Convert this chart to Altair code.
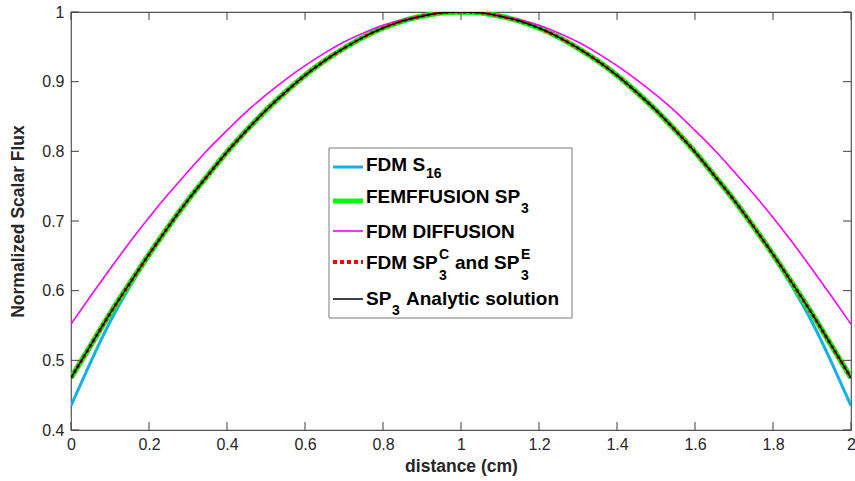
import altair as alt
import pandas as pd

# ---------------- data ----------------
distance = [0.00, 0.05, 0.10, 0.15, 0.20, 0.25, 0.30, 0.35, 0.40, 0.45, 0.50,
            0.55, 0.60, 0.65, 0.70, 0.75, 0.80, 0.85, 0.90, 0.95, 1.00,
            1.05, 1.10, 1.15, 1.20, 1.25, 1.30, 1.35, 1.40, 1.45, 1.50,
            1.55, 1.60, 1.65, 1.70, 1.75, 1.80, 1.85, 1.90, 1.95, 2.00]

fdm_s16 = [0.435, 0.497, 0.555, 0.605, 0.650, 0.691, 0.730, 0.765, 0.799, 0.830, 0.859,
           0.885, 0.909, 0.930, 0.948, 0.964, 0.977, 0.987, 0.994, 0.999, 1.000,
           0.999, 0.994, 0.987, 0.977, 0.964, 0.948, 0.930, 0.909, 0.885, 0.859,
           0.830, 0.799, 0.765, 0.730, 0.691, 0.650, 0.605, 0.555, 0.497, 0.435]

femffusion_sp3 = [0.475, 0.521, 0.567, 0.610, 0.652, 0.692, 0.730, 0.765, 0.799, 0.830, 0.859,
                  0.885, 0.909, 0.930, 0.948, 0.964, 0.977, 0.987, 0.994, 0.999, 1.000,
                  0.999, 0.994, 0.987, 0.977, 0.964, 0.948, 0.930, 0.909, 0.885, 0.859,
                  0.830, 0.799, 0.765, 0.730, 0.692, 0.652, 0.610, 0.567, 0.521, 0.475]

fdm_diffusion = [0.552, 0.592, 0.631, 0.669, 0.705, 0.739, 0.771, 0.802, 0.830, 0.857, 0.881,
                 0.903, 0.923, 0.941, 0.957, 0.970, 0.981, 0.989, 0.995, 0.999, 1.000,
                 0.999, 0.995, 0.989, 0.981, 0.970, 0.957, 0.941, 0.923, 0.903, 0.881,
                 0.857, 0.830, 0.802, 0.771, 0.739, 0.705, 0.669, 0.631, 0.592, 0.552]

fdm_sp3_ce = [0.475, 0.521, 0.567, 0.610, 0.652, 0.692, 0.730, 0.765, 0.799, 0.830, 0.859,
              0.885, 0.909, 0.930, 0.948, 0.964, 0.977, 0.987, 0.994, 0.999, 1.000,
              0.999, 0.994, 0.987, 0.977, 0.964, 0.948, 0.930, 0.909, 0.885, 0.859,
              0.830, 0.799, 0.765, 0.730, 0.692, 0.652, 0.610, 0.567, 0.521, 0.475]

sp3_analytic = [0.475, 0.521, 0.567, 0.610, 0.652, 0.692, 0.730, 0.765, 0.799, 0.830, 0.859,
                0.885, 0.909, 0.930, 0.948, 0.964, 0.977, 0.987, 0.994, 0.999, 1.000,
                0.999, 0.994, 0.987, 0.977, 0.964, 0.948, 0.930, 0.909, 0.885, 0.859,
                0.830, 0.799, 0.765, 0.730, 0.692, 0.652, 0.610, 0.567, 0.521, 0.475]

x_ticks = [0, 0.2, 0.4, 0.6, 0.8, 1.0, 1.2, 1.4, 1.6, 1.8, 2.0]
y_ticks = [0.4, 0.5, 0.6, 0.7, 0.8, 0.9, 1.0]

# ---------------- layout ----------------
W, H = 780, 418
FONT = "Liberation Sans"
TXT = "#262626"

xs = alt.Scale(domain=[0, 2], nice=False, zero=False)
ys = alt.Scale(domain=[0.4, 1.0], nice=False, zero=False)

x_axis = alt.Axis(values=x_ticks, ticks=False, domain=False, grid=False,
                  labelExpr="format(datum.value, '~g')", labelFont=FONT,
                  labelFontSize=16, labelColor=TXT, labelPadding=6,
                  labelFlush=False, labelOverlap=False,
                  title="distance (cm)", titleFont=FONT, titleFontSize=17.5,
                  titleFontWeight="bold", titleColor=TXT, titleY=36,
                  titleBaseline="middle")
y_axis = alt.Axis(values=y_ticks, ticks=False, domain=False, grid=False,
                  labelExpr="format(datum.value, '~g')", labelFont=FONT,
                  labelFontSize=16, labelColor=TXT, labelPadding=7,
                  labelFlush=False, labelOverlap=False,
                  title="Normalized Scalar Flux", titleFont=FONT, titleFontSize=17.5,
                  titleFontWeight="bold", titleColor=TXT, titleX=-53, titleY=H / 2,
                  titleAngle=-90, titleAlign="center", titleBaseline="middle")

df = pd.DataFrame({
    "distance": distance,
    "s16": fdm_s16,
    "fem": femffusion_sp3,
    "diff": fdm_diffusion,
    "sp3ce": fdm_sp3_ce,
    "ana": sp3_analytic,
})

base = alt.Chart(df)


def curve(col, color, width, dash=None):
    kw = dict(color=color, strokeWidth=width, interpolate="natural", clip=True)
    if dash:
        kw["strokeDash"] = dash
    return base.mark_line(**kw).encode(
        x=alt.X("distance:Q", scale=xs, axis=x_axis),
        y=alt.Y(f"{col}:Q", scale=ys, axis=y_axis),
    )


lines = [
    curve("s16", "#14b1e7", 3),
    curve("fem", "#00ff00", 5.5),
    curve("diff", "#ff00ff", 1.6),
    curve("sp3ce", "#ff0000", 3.5, dash=[3, 3]),
    curve("ana", "#000000", 1.5),
]

# inward tick marks on all four sides (MATLAB box style)
xt = pd.DataFrame({"t": x_ticks})
yt = pd.DataFrame({"t": y_ticks})
TICK = 8
TC = "#404040"
ticks = [
    alt.Chart(xt).mark_rule(color=TC, strokeWidth=1).encode(
        x=alt.X("t:Q", scale=xs, axis=x_axis), y=alt.value(H), y2=alt.value(H - TICK)),
    alt.Chart(xt).mark_rule(color=TC, strokeWidth=1).encode(
        x=alt.X("t:Q", scale=xs, axis=x_axis), y=alt.value(0), y2=alt.value(TICK)),
    alt.Chart(yt).mark_rule(color=TC, strokeWidth=1).encode(
        y=alt.Y("t:Q", scale=ys, axis=y_axis), x=alt.value(0), x2=alt.value(TICK)),
    alt.Chart(yt).mark_rule(color=TC, strokeWidth=1).encode(
        y=alt.Y("t:Q", scale=ys, axis=y_axis), x=alt.value(W), x2=alt.value(W - TICK)),
]

# ---------------- legend (manual, to allow sub/superscripts) ----------------
one = pd.DataFrame({"a": [0]})
legend_layers = [
    alt.Chart(one).mark_rect(fill="white", stroke="#7a7a7a", strokeWidth=1).encode(
        x=alt.value(258), x2=alt.value(501), y=alt.value(136), y2=alt.value(306)),
]


def sample(yv, color, width, dash=None):
    kw = dict(color=color, strokeWidth=width)
    if dash:
        kw["strokeDash"] = dash
    return alt.Chart(one).mark_rule(**kw).encode(
        x=alt.value(262), x2=alt.value(292), y=alt.value(yv))


def txt(s, xv, yv, size=19):
    return alt.Chart(one).mark_text(text=s, font=FONT, fontSize=size, fontWeight="bold",
                                    color="#000000", align="left",
                                    baseline="alphabetic").encode(
        x=alt.value(xv), y=alt.value(yv))


legend_layers += [
    sample(155, "#14b1e7", 3),
    sample(189, "#00ff00", 5),
    sample(219, "#ff00ff", 1.6),
    sample(250, "#ff0000", 4, dash=[4, 3]),
    sample(287, "#000000", 1.5),
    txt("FDM S", 295, 159), txt("16", 355, 166, 14),
    txt("FEMFFUSION SP", 295, 191), txt("3", 450, 201, 14),
    txt("FDM DIFFUSION", 295, 226),
    txt("FDM SP", 295, 257), txt("C", 368, 247, 14), txt("3", 368, 268, 14),
    txt("and SP", 384, 257), txt("E", 450, 247, 14), txt("3", 450, 268, 14),
    txt("SP", 295, 293), txt("3", 321, 303, 14),
    txt("Analytic solution", 335, 293),
]

chart = alt.layer(*lines, *ticks, *legend_layers).properties(
    width=W, height=H,
    autosize=alt.AutoSizeParams(type="none"),
    padding={"left": 71, "top": 12, "right": 4, "bottom": 51},
    background="white",
).configure_view(stroke="#555555", strokeWidth=1.2)

chart.save("out.html", embed_options={"renderer": "svg", "actions": False})
